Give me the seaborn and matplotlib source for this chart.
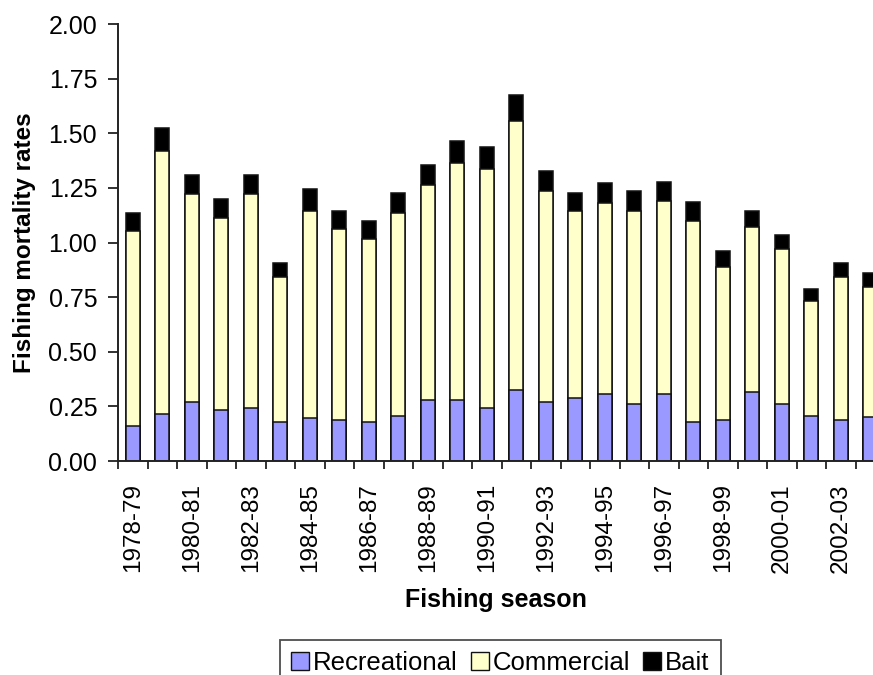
import numpy as np
import pandas as pd
import matplotlib
matplotlib.use("Agg")
import matplotlib.pyplot as plt
import seaborn as sns
from matplotlib.patches import Patch

seasons = ["1978-79", "1979-80", "1980-81", "1981-82", "1982-83", "1983-84",
           "1984-85", "1985-86", "1986-87", "1987-88", "1988-89", "1989-90",
           "1990-91", "1991-92", "1992-93", "1993-94", "1994-95", "1995-96",
           "1996-97", "1997-98", "1998-99", "1999-00", "2000-01", "2001-02",
           "2002-03", "2003-04"]
recreational = [0.160, 0.215, 0.268, 0.233, 0.244, 0.178, 0.197, 0.188, 0.178,
                0.206, 0.279, 0.279, 0.243, 0.325, 0.270, 0.288, 0.307, 0.261,
                0.306, 0.180, 0.188, 0.314, 0.261, 0.208, 0.188, 0.200]
commercial = [0.894, 1.205, 0.952, 0.878, 0.976, 0.666, 0.949, 0.875, 0.840,
              0.931, 0.986, 1.086, 1.095, 1.233, 0.967, 0.858, 0.875, 0.885,
              0.885, 0.920, 0.701, 0.758, 0.711, 0.526, 0.656, 0.598]
bait = [0.080, 0.106, 0.087, 0.088, 0.087, 0.061, 0.097, 0.080, 0.079,
        0.088, 0.088, 0.098, 0.098, 0.116, 0.090, 0.079, 0.089, 0.088,
        0.087, 0.087, 0.072, 0.071, 0.061, 0.052, 0.061, 0.061]
series_names = ["Recreational", "Commercial", "Bait"]
colors = ["#9999FF", "#FFFFCC", "#000000"]
y_ticks = [0.0, 0.25, 0.5, 0.75, 1.0, 1.25, 1.5, 1.75, 2.0]

df = pd.DataFrame({"season": seasons, "Recreational": recreational,
                   "Commercial": commercial, "Bait": bait})
df["cum_rec"] = df["Recreational"]
df["cum_comm"] = df["cum_rec"] + df["Commercial"]
df["cum_bait"] = df["cum_comm"] + df["Bait"]

sns.set_style("white")
plt.rcParams["font.family"] = ["Liberation Sans", "DejaVu Sans"]
plt.rcParams["text.color"] = "black"
plt.rcParams["axes.labelcolor"] = "black"
plt.rcParams["xtick.color"] = "black"
plt.rcParams["ytick.color"] = "black"

fig = plt.figure(figsize=(8.73, 6.75), dpi=100)
ax = fig.add_axes([0.1352, 0.317, 0.8648, 0.6474])

bar_kw = dict(width=0.47, edgecolor="#111111", linewidth=1.1, errorbar=None,
              order=seasons, ax=ax)
for col, c in zip(["cum_bait", "cum_comm", "cum_rec"], colors[::-1]):
    sns.barplot(data=df, x="season", y=col, color=c, saturation=1, **bar_kw)

ax.set_xlim(-0.5, 25.09)
ax.set_ylim(0, 2.0)
ax.set_yticks(y_ticks)
ax.set_yticklabels([f"{v:.2f}" for v in y_ticks])
major = list(range(0, len(seasons), 2))
ax.set_xticks(major)
ax.set_xticklabels([seasons[i] for i in major], rotation=90)
ax.set_xticks(np.arange(-0.5, len(seasons) - 0.5, 1), minor=True)

ax.tick_params(axis="x", which="major", length=0, pad=16, labelsize=17.5,
               labelcolor="black")
ax.tick_params(axis="x", which="minor", length=6, width=1.3, direction="out",
               color="#222222", bottom=True)
ax.tick_params(axis="y", which="major", length=7, width=1.3, direction="out",
               color="#222222", pad=8, labelsize=18, left=True,
               labelcolor="black")

for s in ["top", "right"]:
    ax.spines[s].set_visible(False)
for s in ["left", "bottom"]:
    ax.spines[s].set_color("#222222")
    ax.spines[s].set_linewidth(1.4)

ax.set_xlabel("Fishing season", fontsize=18, fontweight="bold", labelpad=11,
              color="black")
ax.set_ylabel("Fishing mortality rates", fontsize=17.5, fontweight="bold",
              labelpad=9, color="black")

handles = [Patch(facecolor=c, edgecolor="#111111", linewidth=1.0) for c in colors]
leg = fig.legend(handles, series_names, loc="upper center",
                 bbox_to_anchor=(0.573, 0.052), ncol=3, frameon=True,
                 fancybox=False, edgecolor="#222222", fontsize=18.5,
                 handlelength=0.7, handleheight=0.7, handletextpad=0.15,
                 columnspacing=0.5, borderpad=0.45, borderaxespad=0)
leg.get_frame().set_linewidth(1.3)
for t in leg.get_texts():
    t.set_color("black")

fig.savefig("out.png", dpi=100)
